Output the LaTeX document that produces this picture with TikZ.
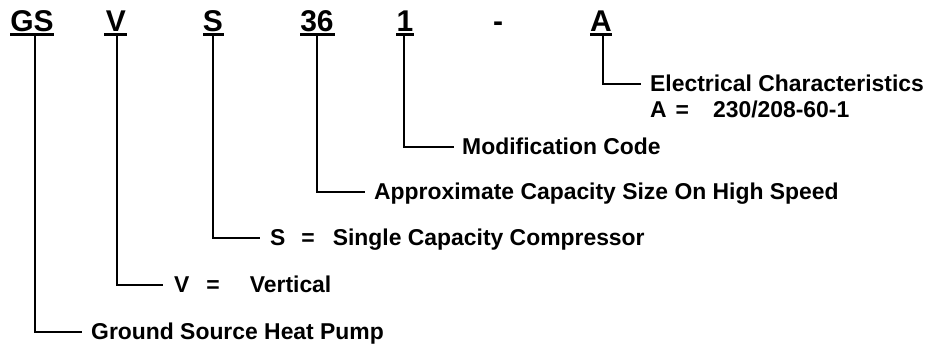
\documentclass[tikz,border=0pt]{standalone}
\usepackage{fontspec}
\setmainfont{Liberation Sans}
\begin{document}
\begin{tikzpicture}[x=1pt,y=1pt,
  code/.style={font=\fontsize{30}{30}\selectfont\bfseries, inner sep=0pt, anchor=base},
  lbl/.style={font=\fontsize{22.9}{26}\selectfont\bfseries, inner sep=0pt, anchor=base west},
  bar/.style={line width=3pt},
  conn/.style={line width=2.5pt}]
\useasboundingbox (0,0) rectangle (932,348);
% model code letters
\node[code] (gs) at (32,316) {GS};
\node[code] (v) at (116,316) {V};
\node[code] (s) at (213,316) {S};
\node[code] (n36) at (317,316) {36};
\node[code] (one) at (405,316) {1};
\node[code] (dash) at (498,316) {-};
\node[code] (a) at (601,316) {A};
% underline bars
\draw[bar] (10,313) -- (54,313);
\draw[bar] (104,313) -- (127,313);
\draw[bar] (203,313) -- (224,313);
\draw[bar] (300,313) -- (335,313);
\draw[bar] (396,313) -- (414,313);
\draw[bar] (590,313) -- (612,313);
\coordinate (gsb) at (35,313);
\coordinate (vb) at (117,313);
\coordinate (sb) at (213,313);
\coordinate (n36b) at (317,313);
\coordinate (oneb) at (404,313);
\coordinate (ab) at (603,313);
% labels
\node[lbl] (lgs) at (91,8.5) {Ground Source Heat Pump};
\node[lbl] (lv) at (174,55.5) {V\hspace{17pt}=\hspace{30pt}Vertical};
\node[lbl] (ls) at (270,102.5) {S\hspace{16pt}=\hspace{18pt}Single Capacity Compressor};
\node[lbl] (l36) at (374,148.5) {Approximate Capacity Size On High Speed};
\node[lbl] (lone) at (462,193.5) {Modification Code};
\node[lbl] (la) at (650,256.5) {Electrical Characteristics};
\node[lbl] (la2) at (650,230.5) {A\hspace{9pt}=\hspace{24pt}230/208-60-1};
% connectors
\draw[conn] (gsb) |- ([xshift=-9pt,yshift=7.5pt]lgs.base west);
\draw[conn] (vb) |- ([xshift=-11pt,yshift=7.5pt]lv.base west);
\draw[conn] (sb) |- ([xshift=-10pt,yshift=7.5pt]ls.base west);
\draw[conn] (n36b) |- ([xshift=-9pt,yshift=7.5pt]l36.base west);
\draw[conn] (oneb) |- ([xshift=-8pt,yshift=7.5pt]lone.base west);
\draw[conn] (ab) |- ([xshift=-9pt,yshift=7.5pt]la.base west);
\end{tikzpicture}
\end{document}
